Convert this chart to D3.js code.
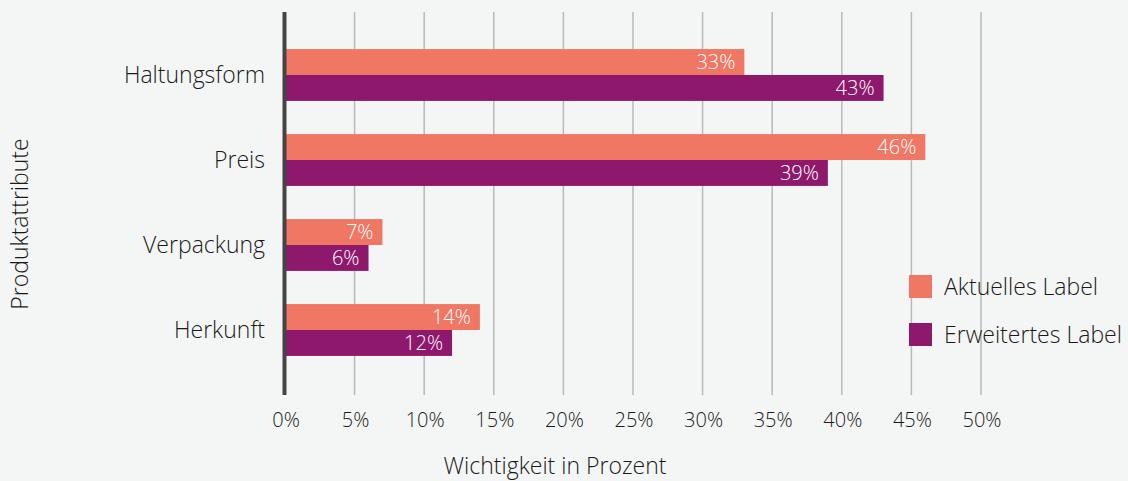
<!DOCTYPE html>
<html>
<head>
<meta charset="utf-8">
<script src="https://cdn.jsdelivr.net/npm/d3@7"></script>
<style>
  body { margin: 0; background: #f4f6f5; }
  svg { display: block; font-family: "Open Sans", "Noto Sans", sans-serif; font-weight: 300; }
</style>
</head>
<body>
<svg id="chart"></svg>
<script>
// data
var categories = ["Haltungsform", "Preis", "Verpackung", "Herkunft"];
var seriesNames = ["Aktuelles Label", "Erweitertes Label"];
var aktuell = [33, 46, 7, 14];
var erweitert = [43, 39, 6, 12];
var xTicks = [0, 5, 10, 15, 20, 25, 30, 35, 40, 45, 50];
var colors = ["#ef7764", "#8e186c"];

var width = 1128, height = 481;
var svg = d3.select("#chart").attr("width", width).attr("height", height);

svg.append("rect").attr("width", width).attr("height", height).attr("fill", "#f4f6f5");

var x = d3.scaleLinear().domain([0, 50]).range([285, 981]);
var y = d3.scaleBand().domain(categories).range([32.5, 372.5]).paddingInner(0.39).paddingOuter(0.195);
var ySub = d3.scaleBand().domain(seriesNames).range([0, y.bandwidth()]);

var gridTop = 12, gridBottom = 395;

// grid lines
svg.append("g").selectAll("line")
  .data(xTicks.filter(function(d) { return d > 0; }))
  .enter().append("line")
  .attr("x1", function(d) { return x(d); })
  .attr("x2", function(d) { return x(d); })
  .attr("y1", gridTop).attr("y2", gridBottom)
  .attr("stroke", "#b9b9b9").attr("stroke-width", 1.5);

// tick labels
svg.append("g").selectAll("text")
  .data(xTicks)
  .enter().append("text")
  .attr("x", function(d) { return x(d) + 1; })
  .attr("y", 427)
  .attr("text-anchor", "middle")
  .attr("font-size", 20)
  .attr("fill", "#1a1a1a")
  .text(function(d) { return d + "%"; });

// bars
var rows = categories.map(function(c, i) {
  return { cat: c, values: [aktuell[i], erweitert[i]] };
});

var groups = svg.append("g").selectAll("g")
  .data(rows)
  .enter().append("g")
  .attr("transform", function(d) { return "translate(0," + y(d.cat) + ")"; });

groups.selectAll("rect")
  .data(function(d) { return d.values.map(function(v, j) { return { v: v, s: seriesNames[j], j: j }; }); })
  .enter().append("rect")
  .attr("x", x(0))
  .attr("y", function(d) { return ySub(d.s); })
  .attr("width", function(d) { return x(d.v) - x(0); })
  .attr("height", ySub.bandwidth())
  .attr("fill", function(d) { return colors[d.j]; });

groups.selectAll("text")
  .data(function(d) { return d.values.map(function(v, j) { return { v: v, s: seriesNames[j], j: j }; }); })
  .enter().append("text")
  .attr("x", function(d) { return x(d.v) - 9; })
  .attr("y", function(d) { return ySub(d.s) + ySub.bandwidth() / 2; })
  .attr("dy", "0.36em")
  .attr("text-anchor", "end")
  .attr("font-size", 20)
  .attr("fill", "#fff")
  .text(function(d) { return d.v + "%"; });

// category labels
svg.append("g").selectAll("text")
  .data(categories)
  .enter().append("text")
  .attr("x", 265)
  .attr("y", function(d) { return y(d) + y.bandwidth() / 2; })
  .attr("dy", "0.36em")
  .attr("text-anchor", "end")
  .attr("font-size", 23)
  .attr("fill", "#1a1a1a")
  .text(function(d) { return d; });

// y axis line
svg.append("line")
  .attr("x1", 284.5).attr("x2", 284.5)
  .attr("y1", gridTop).attr("y2", gridBottom)
  .attr("stroke", "#444").attr("stroke-width", 4);

// axis titles
svg.append("text")
  .attr("x", 555).attr("y", 474)
  .attr("text-anchor", "middle")
  .attr("font-size", 23)
  .attr("fill", "#1a1a1a")
  .text("Wichtigkeit in Prozent");

svg.append("text")
  .attr("transform", "translate(28,224) rotate(-90)")
  .attr("text-anchor", "middle")
  .attr("font-size", 23)
  .attr("fill", "#1a1a1a")
  .text("Produktattribute");

// legend
var legend = svg.append("g").selectAll("g")
  .data(seriesNames)
  .enter().append("g")
  .attr("transform", function(d, i) { return "translate(909," + (275 + i * 48) + ")"; });

legend.append("rect")
  .attr("width", 23).attr("height", 23)
  .attr("fill", function(d, i) { return colors[i]; });

legend.append("text")
  .attr("x", 35).attr("y", 11.5)
  .attr("dy", "0.36em")
  .attr("font-size", 23)
  .attr("fill", "#1a1a1a")
  .text(function(d) { return d; });
</script>
</body>
</html>
